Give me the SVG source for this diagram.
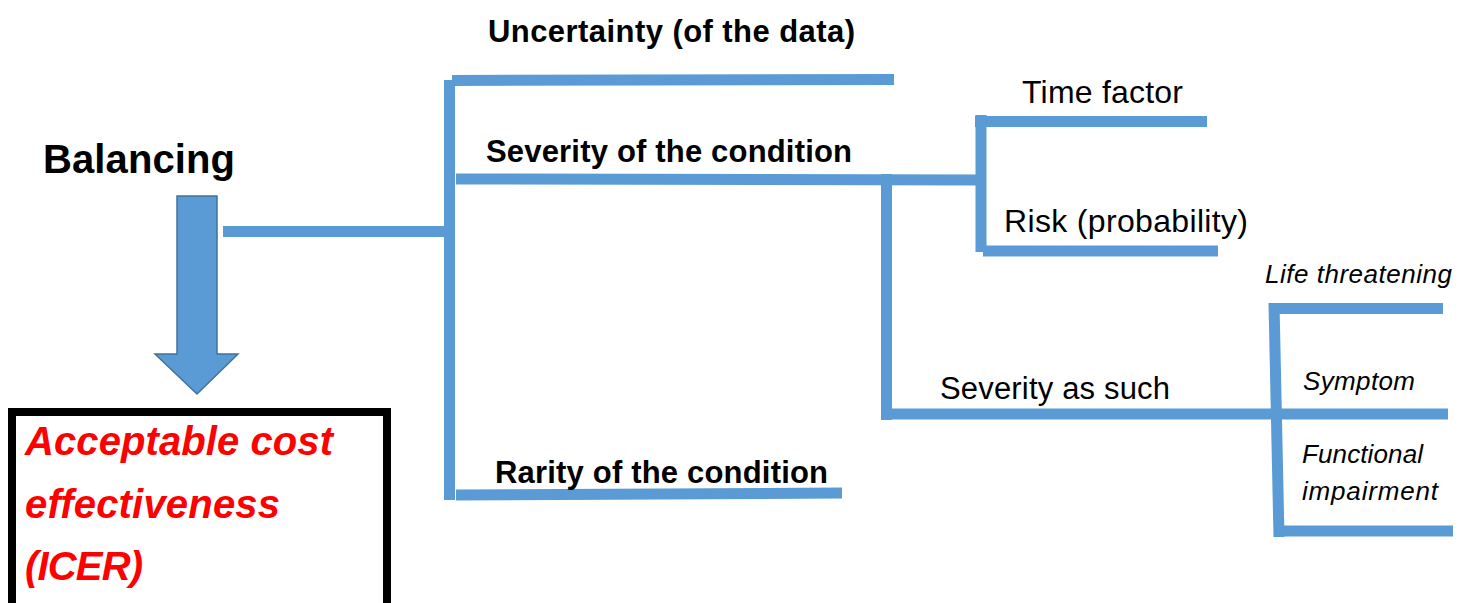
<svg xmlns="http://www.w3.org/2000/svg" width="1467" height="603" viewBox="0 0 1467 603">
<style>
.ln{stroke:#5B9BD5;stroke-width:11;fill:none;stroke-linecap:butt}
.b{font-family:"Liberation Sans",Arial,sans-serif;font-weight:bold;fill:#000}
.r{font-family:"Liberation Sans",Arial,sans-serif;fill:#000}
.i{font-family:"Liberation Sans",Arial,sans-serif;font-style:italic;fill:#000}
.red{font-family:"Liberation Sans",Arial,sans-serif;font-style:italic;font-weight:bold;fill:#FF0000}
</style>
<rect width="1467" height="603" fill="#fff"/>
<g id="connectors">
  <path class="ln" d="M223 231.5 H449"/>
  <path class="ln" d="M449.5 80 V500"/>
  <path class="ln" d="M452 80.5 L894 79.5"/>
  <path class="ln" d="M456 179 L981 180"/>
  <path class="ln" d="M456 495 L842 493"/>
  <path class="ln" d="M981 115 V252"/>
  <path class="ln" d="M975 121.5 H1207"/>
  <path class="ln" d="M983 251 H1218"/>
  <path class="ln" d="M886.5 174 V420"/>
  <path class="ln" d="M881 414 H1448"/>
  <path class="ln" d="M1274 303 L1279 537"/>
  <path class="ln" d="M1272 308.5 H1443"/>
  <path class="ln" d="M1277 531 H1453"/>
</g>
<g id="balancing">
  <text class="b" x="43" y="173" font-size="40" textLength="192">Balancing</text>
  <path d="M177 196 H217 V354 H238 L197 394 L155 354 H177 Z" fill="#5B9BD5" stroke="#41719C" stroke-width="1.5"/>
</g>
<g id="icer">
  <rect x="12" y="412" width="375" height="200" fill="#fff" stroke="#000" stroke-width="8"/>
  <text class="red" x="25" y="455" font-size="40" textLength="308">Acceptable cost</text>
  <text class="red" x="25" y="518" font-size="40" textLength="255">effectiveness</text>
  <text class="red" x="25" y="580" font-size="40" textLength="118">(ICER)</text>
</g>
<g id="uncertainty">
  <text class="b" x="488" y="42" font-size="31" textLength="367">Uncertainty (of the data)</text>
</g>
<g id="severity">
  <text class="b" x="486" y="162" font-size="31" textLength="366">Severity of the condition</text>
</g>
<g id="rarity">
  <text class="b" x="495" y="483" font-size="31" textLength="333">Rarity of the condition</text>
</g>
<g id="time">
  <text class="r" x="1022" y="103" font-size="32" textLength="161">Time factor</text>
</g>
<g id="risk">
  <text class="r" x="1004" y="232" font-size="32" textLength="244">Risk (probability)</text>
</g>
<g id="severity-as-such">
  <text class="r" x="940" y="399" font-size="31" textLength="230">Severity as such</text>
</g>
<g id="life">
  <text class="i" x="1265" y="283" font-size="26" textLength="187">Life threatening</text>
</g>
<g id="symptom">
  <text class="i" x="1303" y="390" font-size="26" textLength="112">Symptom</text>
</g>
<g id="functional">
  <text class="i" x="1302" y="463" font-size="26" textLength="121">Functional</text>
  <text class="i" x="1302" y="500" font-size="26" textLength="136">impairment</text>
</g>
</svg>
